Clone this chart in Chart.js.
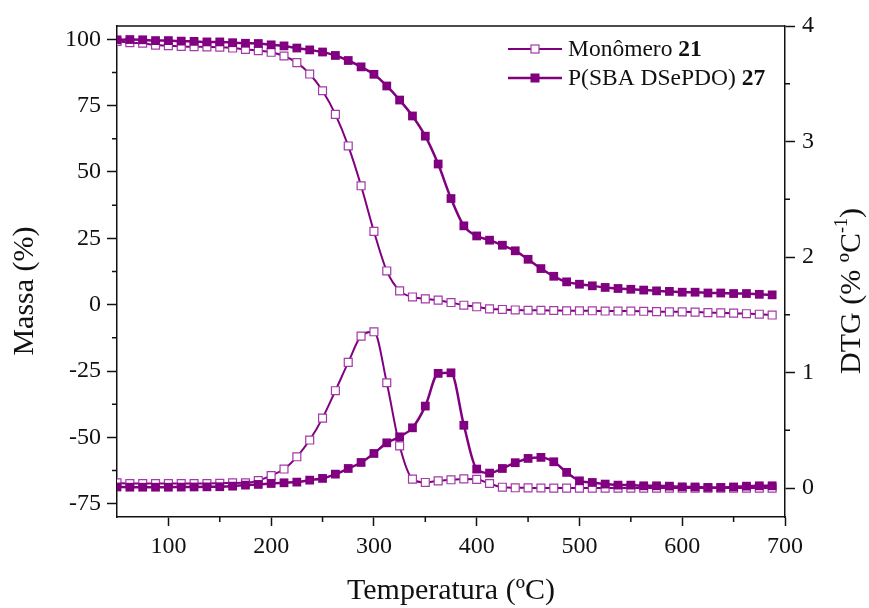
<!DOCTYPE html>
<html>
<head>
<meta charset="utf-8">
<script src="https://cdn.jsdelivr.net/npm/chart.js@4/dist/chart.umd.min.js"></script>
<style>
  html, body { margin: 0; padding: 0; background: #ffffff; }
  #wrap { width: 869px; height: 608px; }
</style>
</head>
<body>
<div id="wrap"><canvas id="c" width="869" height="608"></canvas></div>
<script>
// Temperature (ºC) at which each point was recorded
const temperatures = [
  50, 62.5, 75, 87.5, 100, 112.5, 125, 137.5, 150, 162.5,
  175, 187.5, 200, 212.5, 225, 237.5, 250, 262.5, 275, 287.5,
  300, 312.5, 325, 337.5, 350, 362.5, 375, 387.5, 400, 412.5,
  425, 437.5, 450, 462.5, 475, 487.5, 500, 512.5, 525, 537.5,
  550, 562.5, 575, 587.5, 600, 612.5, 625, 637.5, 650, 662.5,
  675, 687.5
];

// TGA: residual mass (%)
const massMonomer = [
  99.2, 98.7, 98.5, 97.8, 97.6, 97.3, 97.2, 97.1, 97.0, 96.7,
  96.2, 95.7, 95.1, 93.7, 91.2, 86.9, 80.6, 71.7, 59.8, 44.8,
  27.6, 12.7, 5.2, 2.9, 2.2, 1.7, 0.8, -0.2, -0.8, -1.6,
  -1.8, -2.0, -2.1, -2.1, -2.2, -2.3, -2.3, -2.3, -2.4, -2.4,
  -2.4, -2.5, -2.6, -2.7, -2.7, -2.8, -3.0, -3.1, -3.2, -3.4,
  -3.6, -3.9
];
const massPolymer = [
  99.8, 99.9, 99.8, 99.5, 99.5, 99.3, 99.2, 99.0, 99.0, 98.7,
  98.5, 98.4, 97.9, 97.5, 96.7, 96.0, 95.2, 93.9, 92.0, 89.6,
  86.8, 82.4, 77.1, 71.1, 63.5, 53.0, 40.0, 29.7, 25.9, 24.3,
  22.4, 20.3, 17.1, 13.6, 10.7, 8.6, 7.7, 7.1, 6.5, 6.1,
  5.8, 5.5, 5.2, 5.0, 4.7, 4.7, 4.4, 4.4, 4.2, 4.2,
  3.9, 3.7
];

// DTG (% ºC^-1)
const dtgMonomer = [
  0.045, 0.040, 0.040, 0.040, 0.040, 0.040, 0.040, 0.040, 0.042, 0.045,
  0.046, 0.066, 0.108, 0.165, 0.271, 0.416, 0.606, 0.843, 1.088, 1.316,
  1.353, 0.912, 0.366, 0.078, 0.049, 0.063, 0.072, 0.080, 0.076, 0.040,
  0.008, 0.003, 0.002, 0.001, 0.000, 0.000, 0.000, 0.000, 0.000, 0.000,
  0.000, 0.000, 0.000, 0.000, 0.000, 0.000, 0.000, 0.000, 0.000, 0.000,
  0.000, 0.000
];
const dtgPolymer = [
  0.010, 0.008, 0.008, 0.008, 0.008, 0.009, 0.010, 0.011, 0.012, 0.017,
  0.026, 0.032, 0.040, 0.046, 0.052, 0.069, 0.084, 0.121, 0.170, 0.222,
  0.300, 0.392, 0.444, 0.522, 0.710, 0.993, 0.998, 0.544, 0.165, 0.130,
  0.170, 0.220, 0.257, 0.266, 0.228, 0.136, 0.063, 0.049, 0.035, 0.026,
  0.026, 0.020, 0.020, 0.017, 0.011, 0.010, 0.006, 0.006, 0.010, 0.017,
  0.020, 0.020
];

// Axis ticks
const xTicks = [100, 200, 300, 400, 500, 600, 700];
const xMinorTicks = [150, 250, 350, 450, 550, 650];
const massTicks = [-75, -50, -25, 0, 25, 50, 75, 100];
const massMinorTicks = [-62.5, -37.5, -12.5, 12.5, 37.5, 62.5, 87.5];
const dtgTicks = [0, 1, 2, 3, 4];
const dtgMinorTicks = [0.5, 1.5, 2.5, 3.5];

const seriesNames = ['Monômero', 'P(SBA DSePDO)'];
const seriesNumbers = ['21', '27'];

const PURPLE = '#800080';
const OPEN_EDGE = '#a23aa8';
const INK = '#111111';
const SERIF = '"Liberation Serif", "Times New Roman", serif';

const pts = (ys) => temperatures.map((t, i) => ({ x: t, y: ys[i] }));

const monomerStyle = {
  borderColor: PURPLE, borderWidth: 2,
  pointStyle: 'rect', pointRadius: 5.6, pointBorderWidth: 1.2,
  pointBackgroundColor: '#ffffff', pointBorderColor: OPEN_EDGE,
  cubicInterpolationMode: 'monotone', order: 2
};
const polymerStyle = {
  borderColor: PURPLE, borderWidth: 2.5,
  pointStyle: 'rect', pointRadius: 6.2, pointBorderWidth: 0,
  pointBackgroundColor: PURPLE, pointBorderColor: PURPLE,
  cubicInterpolationMode: 'monotone', order: 1
};

function setTicks(values) {
  return (scale) => { scale.ticks = values.map(v => ({ value: v })); };
}

// Frame, minor ticks, legend and axis titles
const decorations = {
  id: 'decorations',
  afterDraw(chart) {
    const { ctx, chartArea: a, scales } = chart;
    ctx.save();
    ctx.strokeStyle = INK;
    ctx.lineWidth = 1.5;
    // top edge of the frame
    ctx.beginPath();
    ctx.moveTo(a.left, a.top);
    ctx.lineTo(a.right, a.top);
    ctx.stroke();

    // minor ticks
    ctx.beginPath();
    xMinorTicks.forEach(v => {
      const px = scales.x.getPixelForValue(v);
      ctx.moveTo(px, a.bottom); ctx.lineTo(px, a.bottom + 5);
    });
    massMinorTicks.forEach(v => {
      const py = scales.y.getPixelForValue(v);
      ctx.moveTo(a.left, py); ctx.lineTo(a.left - 5, py);
    });
    dtgMinorTicks.forEach(v => {
      const py = scales.y1.getPixelForValue(v);
      ctx.moveTo(a.right, py); ctx.lineTo(a.right + 5, py);
    });
    ctx.stroke();

    // legend
    const rows = [49, 78];
    rows.forEach((ry, i) => {
      ctx.strokeStyle = PURPLE;
      ctx.lineWidth = i === 0 ? 2 : 2.5;
      ctx.beginPath();
      ctx.moveTo(508, ry); ctx.lineTo(562, ry);
      ctx.stroke();
      if (i === 0) {
        ctx.fillStyle = '#ffffff';
        ctx.fillRect(531, ry - 4, 8, 8);
        ctx.strokeStyle = OPEN_EDGE; ctx.lineWidth = 1.2;
        ctx.strokeRect(531, ry - 4, 8, 8);
      } else {
        ctx.fillStyle = PURPLE;
        ctx.fillRect(530.5, ry - 4.5, 9, 9);
      }
      ctx.fillStyle = INK;
      ctx.textBaseline = 'middle';
      ctx.textAlign = 'left';
      ctx.font = '23.5px ' + SERIF;
      const label = seriesNames[i] + ' ';
      ctx.fillText(label, 568, ry + 1);
      const w = ctx.measureText(label).width;
      ctx.font = 'bold 23.5px ' + SERIF;
      ctx.fillText(seriesNumbers[i], 568 + w, ry + 1);
    });

    // axis titles
    ctx.fillStyle = INK;
    ctx.font = '30px ' + SERIF;
    ctx.textAlign = 'center';
    ctx.textBaseline = 'middle';
    ctx.fillText('Temperatura (ºC)', (a.left + a.right) / 2, 591);

    ctx.save();
    ctx.translate(25, 291);
    ctx.rotate(-Math.PI / 2);
    ctx.fillText('Massa (%)', 0, 0);
    ctx.restore();

    // right title with superscript exponent
    ctx.save();
    ctx.translate(852, 291);
    ctx.rotate(-Math.PI / 2);
    ctx.textAlign = 'left';
    ctx.textBaseline = 'middle';
    const main = 'DTG (% ºC';
    const sup = '-1';
    const close = ')';
    ctx.font = '30px ' + SERIF;
    const wMain = ctx.measureText(main).width;
    const wClose = ctx.measureText(close).width;
    ctx.font = '18px ' + SERIF;
    const wSup = ctx.measureText(sup).width;
    const x0 = -(wMain + wSup + wClose) / 2;
    ctx.font = '30px ' + SERIF;
    ctx.fillText(main, x0, 0);
    ctx.font = '18px ' + SERIF;
    ctx.fillText(sup, x0 + wMain, -10);
    ctx.font = '30px ' + SERIF;
    ctx.fillText(close, x0 + wMain + wSup, 0);
    ctx.restore();

    ctx.restore();
  }
};

const tickFont = { family: SERIF, size: 24 };

new Chart(document.getElementById('c'), {
  type: 'line',
  data: {
    datasets: [
      Object.assign({ label: 'Monômero 21 TGA', data: pts(massMonomer), yAxisID: 'y' }, monomerStyle),
      Object.assign({ label: 'P(SBA DSePDO) 27 TGA', data: pts(massPolymer), yAxisID: 'y' }, polymerStyle),
      Object.assign({ label: 'Monômero 21 DTG', data: pts(dtgMonomer), yAxisID: 'y1' }, monomerStyle),
      Object.assign({ label: 'P(SBA DSePDO) 27 DTG', data: pts(dtgPolymer), yAxisID: 'y1' }, polymerStyle)
    ]
  },
  options: {
    responsive: false,
    animation: false,
    layout: { padding: { top: 26, left: 0, right: 0, bottom: 0 } },
    plugins: { legend: { display: false }, tooltip: { enabled: false } },
    scales: {
      x: {
        type: 'linear', min: 50, max: 700,
        afterBuildTicks: setTicks(xTicks),
        afterFit: (s) => { s.height = 91; },
        grid: { drawOnChartArea: false, tickLength: 9, tickColor: INK, tickWidth: 1.5 },
        border: { color: INK, width: 1.5 },
        ticks: { font: tickFont, color: INK, padding: 6, maxRotation: 0 }
      },
      y: {
        type: 'linear', position: 'left', min: -80, max: 105,
        afterBuildTicks: setTicks(massTicks),
        afterFit: (s) => { s.width = 117; },
        grid: { drawOnChartArea: false, tickLength: 10, tickColor: INK, tickWidth: 1.5 },
        border: { color: INK, width: 1.5 },
        ticks: { font: tickFont, color: INK, padding: 6 }
      },
      y1: {
        type: 'linear', position: 'right', min: -0.25, max: 4,
        afterBuildTicks: setTicks(dtgTicks),
        afterFit: (s) => { s.width = 84; },
        grid: { drawOnChartArea: false, tickLength: 10, tickColor: INK, tickWidth: 1.5 },
        border: { color: INK, width: 1.5 },
        ticks: { font: tickFont, color: INK, padding: 7 }
      }
    }
  },
  plugins: [decorations]
});
</script>
</body>
</html>
